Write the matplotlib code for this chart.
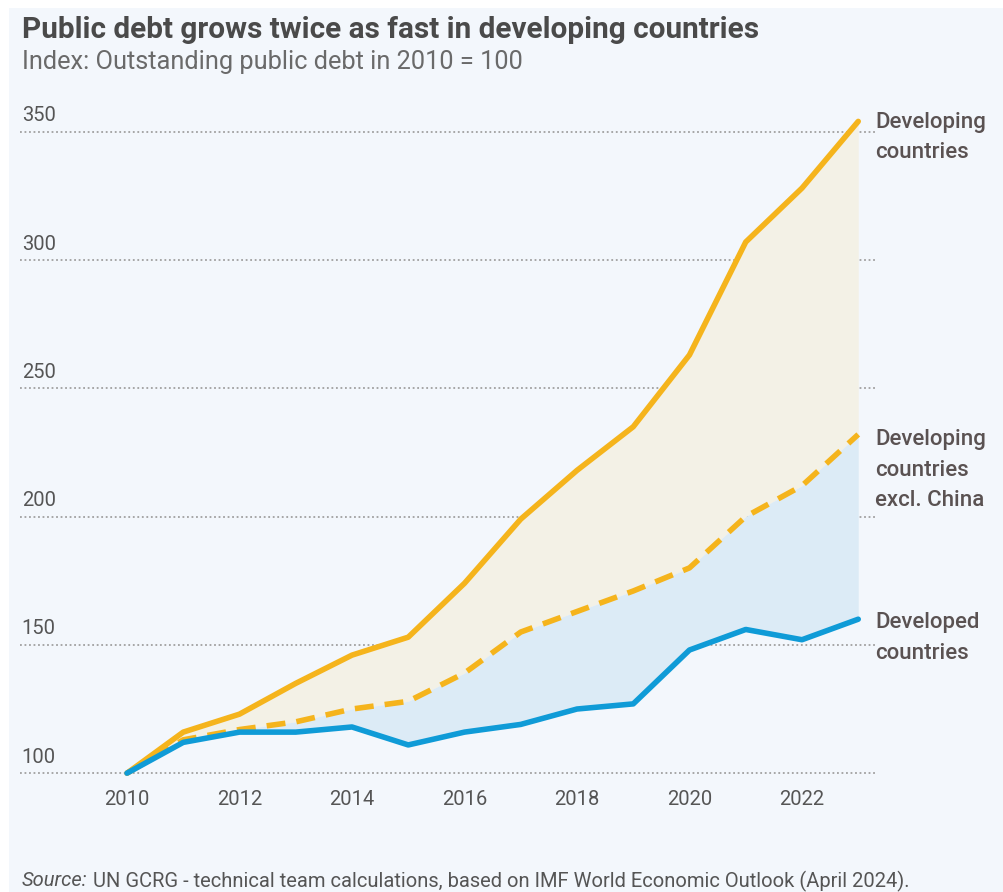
import matplotlib.pyplot as plt
from matplotlib import font_manager
from matplotlib.patches import Rectangle

# data
years = list(range(2010, 2024))
developing = [100, 116, 123, 135, 146, 153, 174, 199, 218, 235, 263, 307, 328, 354]
excl_china = [100, 113, 117, 120, 125, 128, 139, 155, 163, 171, 180, 200, 212, 232]
developed = [100, 112, 116, 116, 118, 111, 116, 119, 125, 127, 148, 156, 152, 160]
yticks = [100, 150, 200, 250, 300, 350]
xticks = [2010, 2012, 2014, 2016, 2018, 2020, 2022]

names = {f.name for f in font_manager.fontManager.ttflist}
narrow = 'Liberation Sans Narrow' if 'Liberation Sans Narrow' in names else 'Roboto'

W, H = 1004, 892
fig = plt.figure(figsize=(W / 100, H / 100), dpi=100, facecolor='white')
fig.patches.append(Rectangle((9 / W, 0), 1, 1 - 8 / H, transform=fig.transFigure,
                             facecolor='#f3f7fc', edgecolor='none', zorder=-10))

# axes placed by pixel: x 20..875, y 106..786
ax = fig.add_axes([20 / W, 1 - 786 / H, 855 / W, 680 / H])
ax.set_facecolor('none')
ax.set_xlim(2008.098, 2023.298)
ax.set_ylim(95, 360)

yellow = '#f5b41c'
blue = '#0f9bd7'

ax.fill_between(years, excl_china, developing, color='#f3f1e6', lw=0, zorder=1)
ax.fill_between(years, developed, excl_china, color='#dcebf6', lw=0, zorder=1)

for y in yticks:
    ax.axhline(y, color='#a0a0a0', lw=1.3, ls=(0, (1, 1.5)), zorder=0)
    ax.text(2008.13, y + 2.5, str(y), fontsize=14.5, family=narrow, color='#555555',
            ha='left', va='bottom')

ax.plot(years, developing, color=yellow, lw=4, solid_capstyle='round', zorder=3)
ax.plot(years, excl_china, color=yellow, lw=4, ls=(0, (3.4, 2.0)), zorder=3)
ax.plot(years, developed, color=blue, lw=4, solid_capstyle='round', zorder=4)

ax.set_xticks(xticks)
ax.set_xticklabels([str(x) for x in xticks], fontsize=14.5, family=narrow, color='#555555')
ax.tick_params(axis='x', length=0, pad=3)
ax.set_yticks([])
for s in ax.spines.values():
    s.set_visible(False)

lab = dict(fontsize=16, family=narrow, weight='medium', color='#5a5252', ha='left',
           va='center', linespacing=1.6, clip_on=False)
ax.text(2023.3, 347.8, 'Developing\ncountries', **lab)
ax.text(2023.3, 218, 'Developing\ncountries\nexcl. China', **lab)
ax.text(2023.3, 152.6, 'Developed\ncountries', **lab)

fig.text(22 / W, 1 - 30 / H, 'Public debt grows twice as fast in developing countries',
         fontsize=21.4, family='Roboto', weight='bold', color='#4a4a4a', va='center')
fig.text(22 / W, 1 - 62 / H, 'Index: Outstanding public debt in 2010 = 100',
         fontsize=18.3, family='Roboto', color='#6a6a6a', va='center')

t = fig.text(22 / W, 1 - 881 / H, 'Source:', fontsize=14.5, family=narrow, style='italic',
             color='#555555', va='center')
ax.annotate(' UN GCRG - technical team calculations, based on IMF World Economic Outlook (April 2024).',
            xy=(1, 0.5), xycoords=t, va='center', ha='left', fontsize=14.5, family=narrow,
            color='#555555', annotation_clip=False)

fig.savefig('out.png', dpi=100, facecolor=fig.get_facecolor())
